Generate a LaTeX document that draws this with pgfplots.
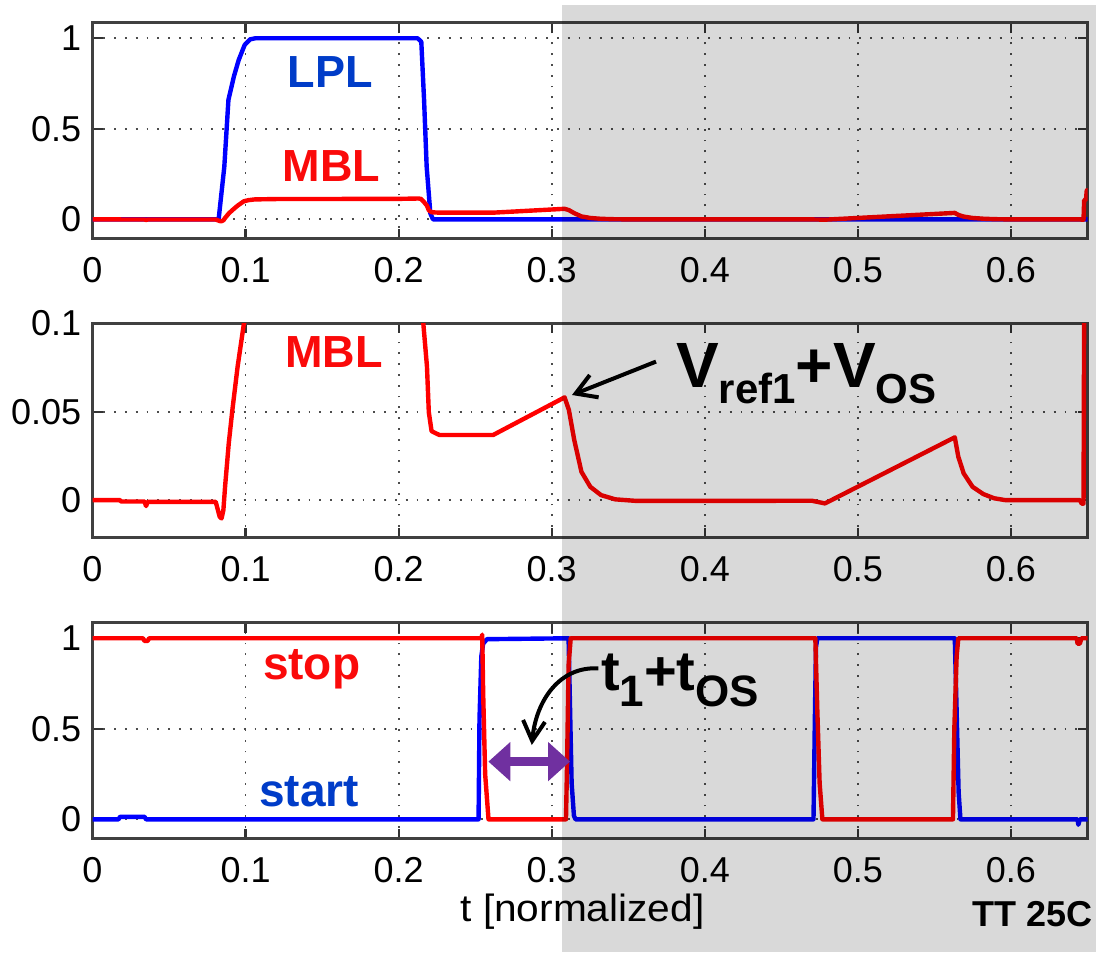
\documentclass[border=0pt]{standalone}
\usepackage{fontspec}
\setmainfont{Liberation Sans}
\usepackage{pgfplots}
\usepackage{pgfplotstable}
\pgfplotsset{compat=1.18}
\usetikzlibrary{arrows.meta}

\definecolor{lineblue}{RGB}{0,0,255}
\definecolor{linered}{RGB}{255,0,0}
\definecolor{textblue}{RGB}{0,60,200}
\definecolor{textred}{RGB}{250,10,10}
\definecolor{arrowpurple}{RGB}{112,48,160}

% LPL (top panel)
\pgfplotstableread{
t v
0 0
0.0824 0
0.0861 0.29
0.0888 0.66
0.0924 0.79
0.0955 0.88
0.0994 0.963
0.1029 0.994
0.1064 1.0
0.2124 1.0
0.2148 0.98
0.2166 0.66
0.2183 0.29
0.2207 0.033
0.2224 0
0.65 0
}\lpl

% MBL (top and middle panel)
\pgfplotstableread{
t v
0 0
0.018 0
0.0185 -0.0008
0.034 -0.0008
0.035 -0.0034
0.036 -0.001
0.0805 -0.001
0.0831 -0.0095
0.0843 -0.0104
0.0855 -0.0057
0.0866 0.0075
0.089 0.032
0.0913 0.0504
0.0948 0.0755
0.0989 0.0998
0.102 0.106
0.106 0.110
0.120 0.112
0.200 0.113
0.213 0.115
0.2145 0.113
0.2161 0.100
0.2185 0.0755
0.2197 0.0497
0.2215 0.039
0.2244 0.0377
0.2267 0.0368
0.2617 0.0368
0.3084 0.0581
0.3112 0.051
0.3147 0.034
0.3194 0.016
0.3252 0.0075
0.3322 0.0028
0.3415 0.0004
0.3555 -0.0005
0.4700 -0.0004
0.4785 -0.0019
0.4810 -0.0008
0.5633 0.0355
0.5656 0.0245
0.5691 0.0151
0.5749 0.0075
0.5819 0.0034
0.5890 0.0010
0.5960 0.0
0.6450 0.0
0.6462 -0.002
0.6474 -0.002
0.6478 0.105
0.6490 0.110
0.6495 0.160
0.6500 0.160
}\mbl

% start / stop (bottom panel)
\pgfplotstableread{
t v
0 0
0.017 0
0.018 0.014
0.034 0.014
0.035 0
0.2522 0
0.2528 0.55
0.2540 0.9
0.2552 0.97
0.2577 0.995
0.3110 1.0
0.3120 0.6
0.3130 0.2
0.3145 0.02
0.3155 0
0.4710 0
0.4718 0.5
0.4726 0.95
0.4735 1.0
0.5633 1.0
0.5645 0.6
0.5658 0.15
0.5670 0
0.6435 0
0.6440 -0.03
0.6450 0
0.6500 0
}\start

\pgfplotstableread{
t v
0 1.0
0.033 1.0
0.034 0.985
0.036 0.985
0.037 1.0
0.2540 1.0
0.2546 1.02
0.2552 0.7
0.2565 0.25
0.2587 0
0.3093 0
0.3100 0.3
0.3110 0.85
0.3124 1.0
0.4722 1.0
0.4735 0.6
0.4750 0.2
0.4768 0
0.5621 0
0.5630 0.5
0.5645 0.9
0.5656 1.0
0.6430 1.0
0.6435 0.97
0.6450 0.97
0.6460 1.0
0.6500 1.0
}\stop

\pgfplotsset{
  panel/.style={
    anchor=north west, scale only axis, width=497.5pt,
    xmin=0, xmax=0.65,
    xtick={0,0.1,0.2,0.3,0.4,0.5,0.6},
    xticklabels={0,0.1,0.2,0.3,0.4,0.5,0.6},
    tick align=inside, tick pos=both, major tick length=5pt,
    axis line style={black!75, line width=1.3pt},
    tick style={black!80, line width=1.1pt},
    grid=major,
    major grid style={black!70, line width=0.9pt, dash pattern=on 0.9pt off 4.5pt},
    every tick label/.append style={font=\fontsize{18}{18}\selectfont, inner sep=0pt},
    xticklabel style={anchor=north, yshift=-9pt},
    yticklabel style={anchor=east, xshift=-5.5pt},
    /pgf/number format/assume math mode=true,
    every axis plot/.append style={line width=2.2pt, line join=round, no markers},
  }
}

\begin{document}
\begin{tikzpicture}
\useasboundingbox (0,0) rectangle (548pt,-476pt);

% top panel
\begin{axis}[panel, at={(46.25pt,-11.35pt)}, height=108pt,
  ymin=-0.107, ymax=1.086, ytick={0,0.5,1}, yticklabels={0,0.5,1}]
  \addplot[lineblue] table {\lpl};
  \addplot[linered] table {\mbl};
\end{axis}

% middle panel
\begin{axis}[panel, at={(46.25pt,-161.65pt)}, height=107.2pt,
  ymin=-0.0213, ymax=0.1, ytick={0,0.05,0.1}, yticklabels={0,0.05,0.1}]
  \addplot[linered] table {\mbl};
\end{axis}

% bottom panel
\begin{axis}[panel, at={(46.25pt,-311.35pt)}, height=108pt,
  ymin=-0.107, ymax=1.086, ytick={0,0.5,1}, yticklabels={0,0.5,1}]
  \addplot[lineblue] table {\start};
  \addplot[linered] table {\stop};
\end{axis}

% shaded region
\fill[black, opacity=0.15] (281pt,-2.5pt) rectangle (548pt,-476pt);

% labels
\node[anchor=base, text=textblue, inner sep=0] at (165pt,-43.65pt) {\bfseries\fontsize{22.5}{22.5}\selectfont LPL};
\node[anchor=base, text=textred, inner sep=0] at (165.8pt,-90.8pt) {\bfseries\fontsize{22.5}{22.5}\selectfont MBL};
\node[anchor=base, text=textred, inner sep=0] at (167pt,-183.8pt) {\bfseries\fontsize{22.5}{22.5}\selectfont MBL};
\node[anchor=base, text=textred, inner sep=0] at (155.8pt,-339.7pt) {\bfseries\fontsize{23}{23}\selectfont stop};
\node[anchor=base, text=textblue, inner sep=0] at (154.5pt,-403.3pt) {\bfseries\fontsize{23}{23}\selectfont start};

\node[anchor=base west, inner sep=0] at (337.8pt,-193.7pt)
  {\bfseries\fontsize{32}{32}\selectfont V\raisebox{-8pt}{\fontsize{21}{21}\selectfont ref1}+V\raisebox{-8pt}{\fontsize{21}{21}\selectfont OS}};
\draw[line width=2pt, -{Straight Barb[length=10pt,width=12pt]}] (328pt,-180.8pt) -- (286pt,-197.5pt);

\node[anchor=base west, inner sep=0] at (300.3pt,-345pt)
  {\bfseries\fontsize{28}{28}\selectfont t\raisebox{-8.3pt}{\fontsize{22}{22}\selectfont 1}+t\raisebox{-8.3pt}{\fontsize{22}{22}\selectfont OS}};
\draw[line width=2pt, -{Straight Barb[length=10pt,width=11pt]}] (299.2pt,-334.2pt) .. controls (280pt,-333pt) and (268pt,-350pt) .. (265.9pt,-372.5pt);

\draw[line width=4.5pt, arrowpurple, {Triangle[length=11pt,width=19pt]}-{Triangle[length=11pt,width=19pt]}] (244.2pt,-380.8pt) -- (285pt,-380.8pt);

\node[anchor=base, inner sep=0, xscale=1.07] at (291.25pt,-460.8pt) {\fontsize{19}{19}\selectfont t [normalized]};
\node[anchor=base east, inner sep=0] at (546.7pt,-463.3pt) {\bfseries\fontsize{18}{18}\selectfont TT 25C};
\end{tikzpicture}
\end{document}
